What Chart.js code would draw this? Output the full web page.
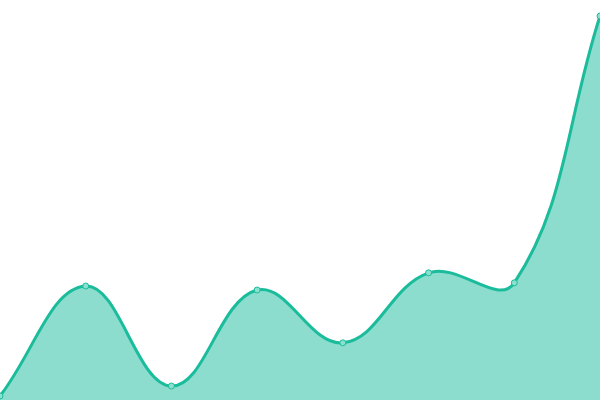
<!DOCTYPE html>
<html>
<head>
<meta charset="utf-8">
<script src="https://cdn.jsdelivr.net/npm/chart.js@4"></script>
<style>
html,body{margin:0;padding:0;background:#fff;}
#wrap{width:600px;height:400px;}
</style>
</head>
<body>
<div id="wrap"><canvas id="c"></canvas></div>
<script>
const labels = ["1","2","3","4","5","6","7","8"];
const values = [1, 28.5, 3.5, 27.5, 14.3, 31.8, 29.3, 96];
const yMin = 0;
const yMax = 100;

new Chart(document.getElementById('c'), {
  type: 'line',
  data: {
    labels: labels,
    datasets: [{
      data: values,
      borderColor: '#1abc9c',
      backgroundColor: 'rgba(26,188,156,0.5)',
      borderWidth: 3,
      fill: true,
      tension: 0.4,
      pointRadius: 3,
      pointBorderWidth: 1,
      pointBackgroundColor: 'rgba(140,224,206,1)',
      pointBorderColor: '#1abc9c'
    }]
  },
  options: {
    responsive: true,
    maintainAspectRatio: false,
    animation: false,
    layout: { padding: 0, autoPadding: false },
    plugins: { legend: { display: false }, tooltip: { enabled: false } },
    scales: {
      x: { display: false, offset: false },
      y: { display: false, min: yMin, max: yMax }
    }
  }
});
</script>
</body>
</html>
